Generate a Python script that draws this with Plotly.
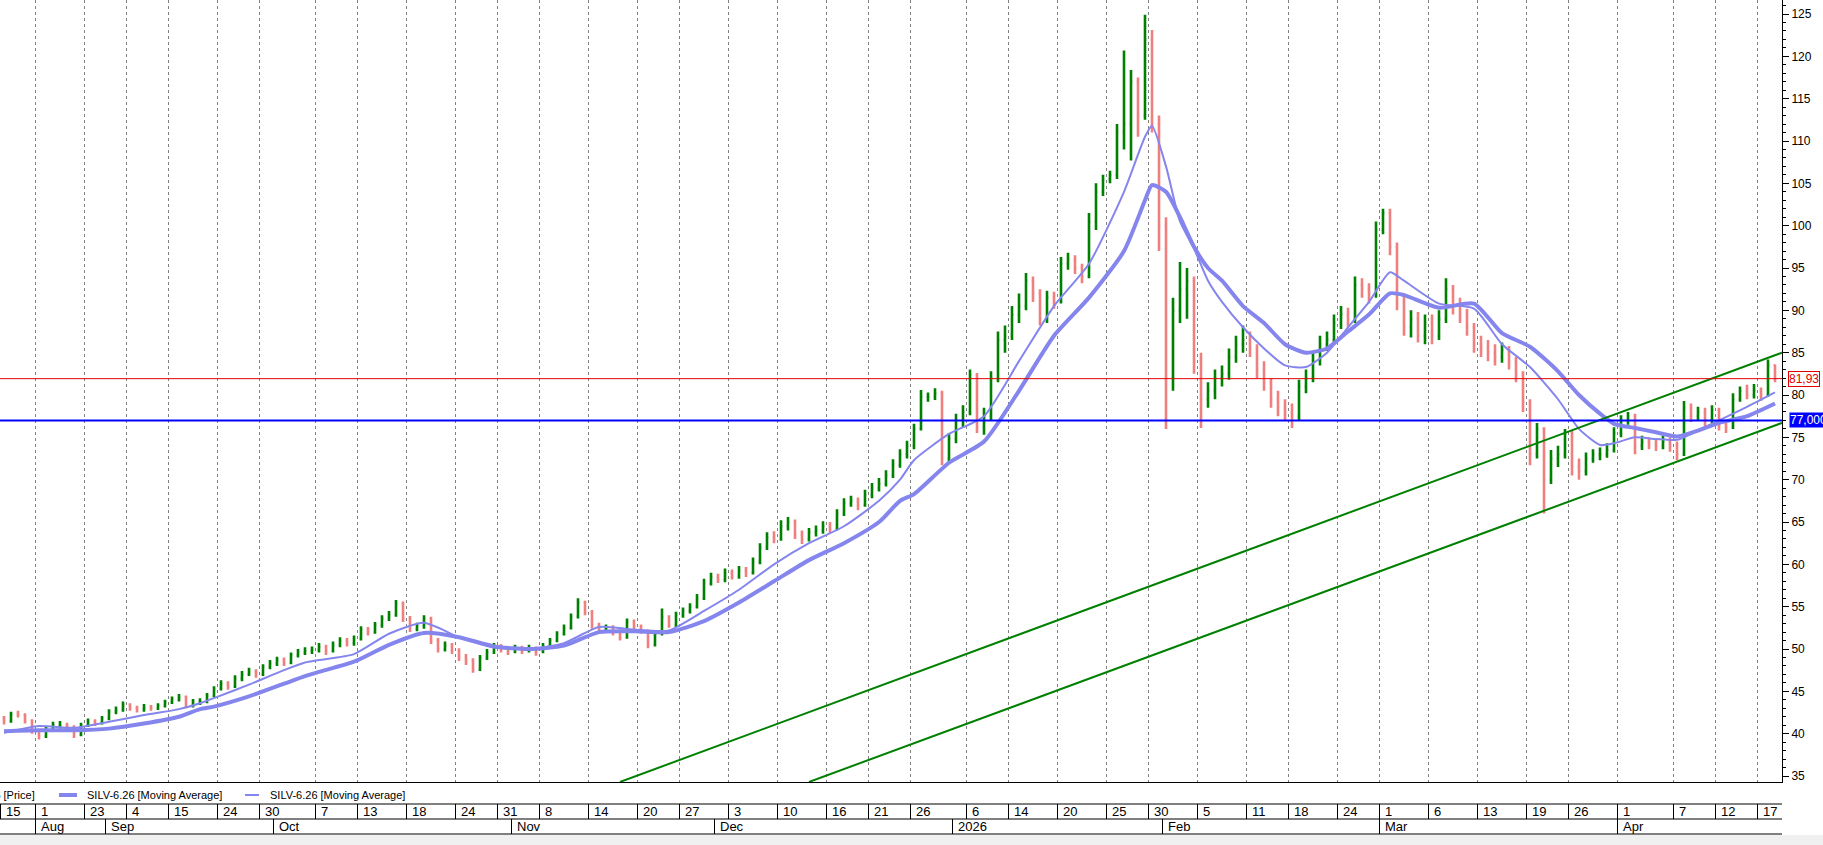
import plotly.graph_objects as go

# ---------------- data ----------------
open_first = 41.8
close = [
41.5, 42.3, 42.2, 41.5, 40.2, 39.7, 40.6, 41.0, 41.0, 40.8,
39.9, 41.0, 41.4, 41.3, 41.8, 42.6, 42.8, 43.4, 43.0, 42.9,
43.1, 43.0, 43.3, 43.7, 44.1, 44.3, 43.3, 43.8, 43.8, 44.5,
45.3, 45.9, 45.6, 46.5, 47.0, 47.3, 47.0, 47.9, 48.3, 48.7,
48.4, 49.3, 49.6, 49.8, 49.9, 50.3, 49.8, 50.5, 51.0, 50.7,
51.2, 52.3, 52.0, 52.8, 53.6, 54.0, 55.4, 53.6, 52.4, 52.7,
53.6, 51.0, 50.0, 50.4, 49.8, 49.0, 48.6, 47.6, 49.0, 49.6,
50.3, 50.0, 49.7, 50.2, 49.8, 50.1, 49.7, 50.4, 51.0, 51.8,
52.5, 53.8, 55.5, 54.3, 52.8, 52.4, 52.5, 52.0, 51.4, 53.2,
52.6, 52.1, 50.5, 51.8, 53.8, 52.8, 54.0, 54.5, 55.0, 56.0,
57.8, 58.5, 58.2, 59.0, 58.6, 59.3, 59.0, 60.3, 62.0, 63.2,
63.0, 64.5, 65.0, 63.5, 63.0, 63.8, 64.0, 64.5, 64.2, 66.0,
67.2, 67.5, 67.0, 68.2, 69.0, 69.5, 70.5, 71.8, 73.0, 74.0,
76.0, 79.8, 79.8, 80.2, 72.5, 74.8, 77.0, 78.0, 82.4, 76.2,
77.5, 82.0, 86.5, 87.0, 89.5, 90.5, 93.5, 92.0, 89.0, 91.5,
91.0, 95.5, 96.0, 95.0, 94.0, 100.5, 104.0, 105.5, 106.0, 111.0,
112.0, 117.0, 113.0, 122.0, 112.0, 100.0, 82.0, 90.0, 92.5, 93.5,
84.0, 79.5, 80.5, 82.0, 82.5, 84.5, 86.0, 86.5, 85.5, 83.0,
81.5, 79.5, 78.5, 78.0, 77.5, 81.0, 82.0, 84.0, 86.0, 86.5,
88.5, 89.5, 89.0, 93.0, 92.5, 92.0, 99.5, 101.5, 97.5, 91.0,
88.0, 89.0, 87.0, 88.5, 87.0, 89.0, 92.5, 90.5, 89.5, 88.0,
86.0, 85.5, 85.0, 84.5, 85.3, 84.0, 82.4, 79.2, 73.0, 76.0,
70.0, 72.5, 73.0, 75.5, 71.5, 71.0, 72.5, 73.0, 73.0, 73.5,
75.5, 77.0, 77.5, 74.0, 74.5, 74.2, 74.0, 74.5, 74.0, 73.0,
78.5, 77.5, 78.0, 77.0, 78.2, 76.5, 76.2, 79.5, 80.5, 80.0,
80.6, 80.0, 83.5, 81.93]
high = [
42.1, 42.6, 42.7, 42.4, 41.7, 40.5, 40.9, 41.4, 41.5, 41.3,
41.0, 41.3, 41.8, 41.7, 42.1, 42.9, 43.2, 43.8, 43.6, 43.3,
43.5, 43.4, 43.6, 44.0, 44.4, 44.7, 44.5, 44.1, 44.2, 44.8,
45.6, 46.3, 46.2, 46.9, 47.4, 47.8, 47.6, 48.2, 48.7, 49.1,
49.0, 49.6, 50.0, 50.2, 50.3, 50.7, 50.5, 50.9, 51.4, 51.3,
51.6, 52.7, 52.6, 53.2, 54.0, 54.5, 55.8, 55.6, 53.9, 53.1,
54.0, 53.8, 51.3, 50.9, 50.7, 50.1, 49.4, 48.9, 49.3, 50.0,
50.7, 50.6, 50.3, 50.5, 50.4, 50.5, 50.3, 50.7, 51.3, 52.1,
52.9, 54.2, 56.0, 55.7, 54.6, 53.1, 52.9, 52.8, 52.3, 53.6,
53.5, 52.9, 52.3, 52.2, 54.8, 54.0, 54.4, 54.9, 55.4, 56.5,
58.3, 59.0, 58.9, 59.5, 59.4, 59.8, 59.7, 60.8, 62.5, 63.8,
63.9, 65.2, 65.6, 65.3, 64.0, 64.3, 64.6, 65.1, 65.0, 66.5,
67.8, 68.1, 67.9, 68.8, 69.6, 70.2, 71.1, 72.4, 73.6, 74.6,
76.6, 80.6, 80.3, 80.8, 80.5, 75.5, 77.8, 78.8, 83.0, 82.6,
78.5, 82.8, 87.5, 88.2, 90.5, 92.0, 94.4, 94.0, 92.5, 92.3,
92.2, 96.3, 96.8, 96.5, 95.5, 101.5, 105.0, 106.0, 106.5, 112.0,
120.7, 118.4, 117.5, 124.9, 123.1, 113.0, 101.0, 91.5, 95.7, 95.0,
94.0, 85.0, 81.5, 83.0, 83.5, 85.5, 87.0, 88.2, 87.5, 86.0,
84.0, 82.0, 80.5, 79.5, 79.0, 81.8, 83.0, 85.0, 87.0, 87.5,
89.5, 90.5, 90.3, 94.0, 93.8, 93.2, 100.5, 102.0, 102.0, 98.0,
92.0, 90.0, 89.8, 89.5, 89.5, 90.0, 93.8, 93.0, 91.5, 90.2,
88.5, 87.0, 86.5, 86.0, 86.2, 85.8, 84.5, 82.8, 79.5, 76.7,
76.2, 73.5, 74.0, 76.0, 75.8, 72.5, 73.2, 73.6, 73.8, 74.3,
76.2, 77.6, 78.0, 77.8, 75.2, 75.0, 74.8, 75.2, 75.0, 74.5,
79.3, 79.0, 78.6, 78.5, 78.8, 78.5, 77.0, 80.2, 81.0, 81.2,
81.3, 80.9, 84.2, 83.6]
low = [
41.1, 41.3, 41.9, 41.2, 40.0, 39.3, 39.5, 40.4, 40.6, 40.4,
39.5, 39.7, 40.8, 40.9, 41.1, 41.6, 42.3, 42.6, 42.7, 42.5,
42.6, 42.7, 42.8, 43.1, 43.5, 43.8, 43.0, 43.1, 43.4, 43.6,
44.3, 45.1, 45.2, 45.4, 46.2, 46.8, 46.6, 46.8, 47.6, 48.0,
48.0, 48.2, 49.0, 49.3, 49.4, 49.6, 49.3, 49.6, 50.2, 50.3,
50.4, 51.0, 51.6, 51.8, 52.5, 53.3, 53.8, 53.2, 52.0, 52.1,
52.4, 50.6, 49.6, 49.7, 49.4, 48.6, 48.1, 47.2, 47.4, 48.7,
49.4, 49.6, 49.3, 49.5, 49.4, 49.6, 49.2, 49.5, 50.2, 50.8,
51.6, 52.3, 53.6, 54.0, 52.4, 52.0, 52.0, 51.6, 51.0, 51.2,
52.3, 51.8, 50.1, 50.3, 51.6, 52.5, 52.6, 53.7, 54.2, 54.8,
55.8, 57.5, 57.8, 57.9, 58.2, 58.3, 58.5, 58.8, 60.0, 61.7,
62.5, 62.8, 64.0, 63.0, 62.4, 62.7, 63.3, 63.6, 63.7, 64.0,
65.7, 66.8, 66.4, 66.8, 67.8, 68.6, 69.2, 70.2, 71.4, 72.5,
73.6, 75.8, 79.2, 79.4, 71.7, 72.0, 74.3, 76.2, 77.6, 75.5,
75.3, 77.0, 81.5, 85.0, 86.5, 88.5, 90.0, 91.0, 88.2, 88.5,
90.2, 90.8, 94.8, 94.3, 93.2, 93.8, 99.5, 103.5, 105.0, 105.5,
109.0, 107.7, 110.5, 112.5, 111.0, 97.0, 76.0, 80.5, 88.5, 89.0,
82.5, 76.1, 78.5, 79.5, 81.0, 81.8, 83.8, 85.0, 84.5, 82.0,
80.5, 78.5, 77.5, 77.0, 76.1, 77.0, 80.2, 81.5, 83.5, 85.2,
86.0, 87.8, 88.0, 88.5, 91.5, 90.8, 91.5, 99.0, 96.5, 90.0,
87.0, 86.8, 86.2, 86.0, 86.0, 86.5, 88.5, 89.5, 88.5, 87.0,
85.0, 84.5, 84.0, 83.5, 83.8, 83.0, 81.5, 78.0, 71.7, 72.5,
66.0, 69.5, 71.5, 72.5, 70.5, 70.0, 70.5, 72.0, 72.3, 72.6,
73.2, 75.0, 76.5, 73.0, 73.5, 73.6, 73.4, 73.6, 73.3, 72.3,
72.8, 76.8, 77.0, 76.3, 76.7, 75.8, 75.5, 76.0, 79.2, 79.5,
79.6, 79.3, 79.8, 81.5]

# moving averages read at sample bars
ma_bars = [0, 5, 10, 15, 20, 25, 28, 30, 35, 40, 43, 45, 50, 55, 60, 65, 70, 75, 80, 85,
           90, 95, 100, 105, 110, 115, 120, 125, 128, 130, 135, 140, 145, 150, 155, 160,
           163, 164, 166, 168, 170, 172, 174, 177, 180, 183, 186, 189, 192, 195, 198, 200,
           205, 210, 214, 218, 222, 225, 228, 230, 233, 236, 239, 242, 245, 249, 253]
ma_fast = [40.1, 40.9, 40.7, 41.4, 42.2, 42.9, 43.6, 44.2, 45.8, 47.5, 48.4, 48.7, 49.4, 51.8,
           53.1, 51.4, 50.2, 50.0, 50.7, 52.6, 52.3, 52.2, 54.5, 57.0, 60.0, 62.5, 64.5, 67.5,
           70.0, 72.3, 75.4, 77.5, 84.0, 90.5, 95.5, 104.0, 110.5, 111.8, 107.0, 100.5, 97.3,
           93.5, 91.0, 88.0, 85.5, 83.5, 83.3, 85.0, 88.0, 91.0, 94.5, 93.5, 90.8, 90.2, 86.0,
           83.3, 79.5, 76.0, 74.1, 74.3, 75.0, 74.8, 74.7, 75.8, 77.0, 78.6, 80.3]
ma_slow = [40.3, 40.4, 40.4, 40.6, 41.2, 42.0, 42.9, 43.2, 44.4, 45.9, 46.8, 47.3, 48.5, 50.5,
           51.9, 51.4, 50.3, 50.0, 50.4, 52.0, 52.1, 52.0, 53.3, 55.5, 58.0, 60.5, 62.5, 65.0,
           67.5, 68.3, 72.0, 74.5, 80.5, 87.0, 91.5, 97.0, 103.0, 104.8, 104.0, 101.0, 97.5,
           95.0, 93.5, 90.5, 88.5, 86.0, 85.0, 85.5, 87.5, 89.5, 92.0, 91.8, 90.3, 90.8, 87.3,
           85.7, 82.8, 80.0, 77.8, 76.6, 76.1, 75.6, 75.1, 75.8, 76.7, 77.5, 79.0]

# channel lines (bar, price)
upper_bars = [88, 254]
upper_vals = [34.3, 85.0]
lower_bars = [115, 254]
lower_vals = [34.3, 76.7]

last_price = 81.93
level_price = 77.0

day_labels = ["15", "1", "23", "4", "15", "24", "30", "7", "13", "18", "24", "31", "8", "14",
              "20", "27", "3", "10", "16", "21", "26", "6", "14", "20", "25", "30", "5", "11",
              "18", "24", "1", "6", "13", "19", "26", "1", "7", "12", "17"]
day_bars = [0, 5, 12, 18, 24, 31, 37, 45, 51, 58, 65, 71, 77, 84, 91, 97, 104, 111, 118, 124,
            130, 138, 144, 151, 158, 164, 171, 178, 184, 191, 197, 204, 211, 218, 224, 231,
            239, 245, 251]
month_labels = ["Aug", "Sep", "Oct", "Nov", "Dec", "2026", "Feb", "Mar", "Apr"]
month_bars = [5, 15, 39, 73, 102, 136, 166, 197, 231]

symbol = "SILV-6.26"

# ---------------- figure ----------------
W, H = 1823, 845
plot_right = 1782
plot_bottom = 782
xd1 = plot_right / W
yd0 = (H - plot_bottom) / H

def py(px):
    return (H - px) / H

FONT = "Liberation Sans Narrow, Liberation Sans, Arial, sans-serif"
MA_COLOR = "#8585ee"
n = len(close)
bars = list(range(n))
opens = [open_first] + close[:-1]

fig = go.Figure()
fig.add_trace(go.Ohlc(
    x=bars, open=opens, high=high, low=low, close=close,
    increasing=dict(line=dict(color="#008000", width=2.6)),
    decreasing=dict(line=dict(color="#f08080", width=2.6)),
    tickwidth=0.2, hoverinfo="skip"))
fig.add_trace(go.Scatter(x=ma_bars, y=ma_slow, mode="lines", line=dict(color=MA_COLOR, width=4, shape="spline", smoothing=0.6), hoverinfo="skip"))
fig.add_trace(go.Scatter(x=ma_bars, y=ma_fast, mode="lines", line=dict(color=MA_COLOR, width=2, shape="spline", smoothing=0.6), hoverinfo="skip"))
fig.add_trace(go.Scatter(x=upper_bars, y=upper_vals, mode="lines", line=dict(color="#008000", width=2), hoverinfo="skip"))
fig.add_trace(go.Scatter(x=lower_bars, y=lower_vals, mode="lines", line=dict(color="#008000", width=2), hoverinfo="skip"))

shapes = []
# level lines
shapes.append(dict(type="line", xref="paper", yref="y", x0=0, x1=xd1, y0=last_price, y1=last_price,
                   line=dict(color="#e00000", width=1)))
shapes.append(dict(type="line", xref="paper", yref="y", x0=0, x1=xd1, y0=level_price, y1=level_price,
                   line=dict(color="#0000ff", width=2)))
# bottom table
for ypx in (804, 819, 834):
    shapes.append(dict(type="line", xref="paper", yref="paper", x0=0, x1=xd1, y0=py(ypx), y1=py(ypx),
                       line=dict(color="black", width=1)))
for b in day_bars:
    shapes.append(dict(type="line", xref="x", yref="paper", x0=b - 0.5, x1=b - 0.5, y0=py(804), y1=py(819),
                       line=dict(color="black", width=1)))
for b in month_bars:
    shapes.append(dict(type="line", xref="x", yref="paper", x0=b - 0.5, x1=b - 0.5, y0=py(819), y1=py(834),
                       line=dict(color="black", width=1)))
shapes.append(dict(type="rect", xref="paper", yref="paper", x0=0, x1=1, y0=0, y1=py(835),
                   fillcolor="#f0f0f0", line=dict(width=0), layer="below"))
# legend symbols
shapes.append(dict(type="line", xref="paper", yref="paper", x0=59 / W, x1=77 / W, y0=py(795), y1=py(795),
                   line=dict(color=MA_COLOR, width=4)))
shapes.append(dict(type="line", xref="paper", yref="paper", x0=245 / W, x1=259 / W, y0=py(795), y1=py(795),
                   line=dict(color=MA_COLOR, width=2)))

ann = []
for lab, b in zip(day_labels, day_bars):
    ann.append(dict(x=b - 0.5, xref="x", y=py(811.5), yref="paper", text=lab, showarrow=False,
                    xanchor="left", yanchor="middle", xshift=3, font=dict(family=FONT, size=13, color="black")))
for lab, b in zip(month_labels, month_bars):
    ann.append(dict(x=b - 0.5, xref="x", y=py(826.5), yref="paper", text=lab, showarrow=False,
                    xanchor="left", yanchor="middle", xshift=3, font=dict(family=FONT, size=13, color="black")))
# legend texts
LEG = dict(family=FONT, size=11, color="black")
ann.append(dict(x=37 / W, xref="paper", y=py(795), yref="paper", text=symbol + " [Price]", showarrow=False,
                xanchor="right", yanchor="middle", font=LEG))
ann.append(dict(x=85 / W, xref="paper", y=py(795), yref="paper", text=symbol + " [Moving Average]", showarrow=False,
                xanchor="left", yanchor="middle", font=LEG))
ann.append(dict(x=268 / W, xref="paper", y=py(795), yref="paper", text=symbol + " [Moving Average]", showarrow=False,
                xanchor="left", yanchor="middle", font=LEG))
# price labels on axis
ann.append(dict(x=1788 / W, xref="paper", y=last_price, yref="y", text=f"{last_price:.2f}".replace(".", ","),
                showarrow=False, xanchor="left", yanchor="middle", bgcolor="white", bordercolor="#e00000",
                borderwidth=1, borderpad=0, font=dict(family=FONT, size=12, color="#e00000")))
ann.append(dict(x=1789 / W, xref="paper", y=level_price, yref="y", text=f"{level_price:.3f}".replace(".", ","),
                showarrow=False, xanchor="left", yanchor="middle", bgcolor="#0000ff", borderpad=0,
                font=dict(family=FONT, size=12, color="white")))

fig.update_layout(
    width=W, height=H, margin=dict(l=0, r=0, t=0, b=0),
    paper_bgcolor="white", plot_bgcolor="white", showlegend=False, hovermode=False,
    shapes=shapes, annotations=ann,
    xaxis=dict(domain=[0, xd1], range=[-4 / 7, 1778 / 7], showticklabels=False, ticks="",
               tickvals=[b - 0.5 for b in day_bars if b > 0], showgrid=True, gridcolor="#808080",
               griddash="3px,3px", gridwidth=1, showline=True, linecolor="black", linewidth=1,
               zeroline=False, rangeslider=dict(visible=False), fixedrange=True),
    yaxis=dict(domain=[yd0, 1], range=[34.295, 126.653], side="right", tick0=35, dtick=5,
               ticks="outside", ticklen=6, tickcolor="black", showgrid=False, showline=True,
               linecolor="black", linewidth=1, zeroline=False,
               tickfont=dict(family=FONT, size=12, color="black"),
               minor=dict(dtick=1, tick0=35, ticks="outside", ticklen=3, tickcolor="black", showgrid=False),
               fixedrange=True),
)

fig.write_html("out.html")
